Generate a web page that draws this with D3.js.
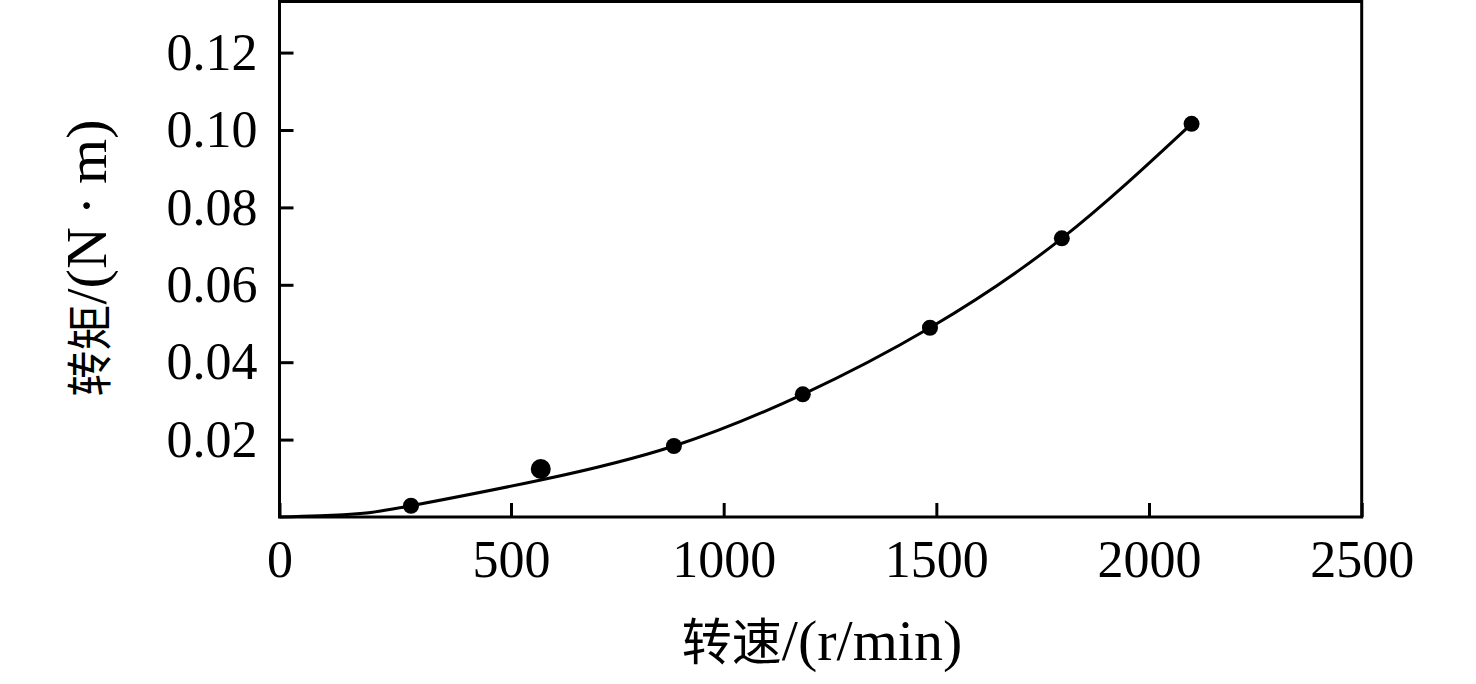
<!DOCTYPE html>
<html>
<head>
<meta charset="utf-8">
<script src="https://cdn.jsdelivr.net/npm/d3@7/dist/d3.min.js"></script>
<style>
  html, body { margin: 0; padding: 0; background: #fff; }
  svg { display: block; }
  text { font-family: "Liberation Serif", "Noto Sans CJK SC", serif; fill: #000; }
</style>
</head>
<body>
<div id="chart"></div>
<script>
// measured points (speed r/min, torque N·m)
const speed  = [284, 570, 883, 1186, 1485, 1795, 2100];
const torque = [0.0029, 0.0124, 0.01835, 0.0317, 0.0489, 0.0720, 0.1016];
// the 600 r/min point is drawn a bit larger in the original
const dotSize = [8, 10, 8, 8, 8, 8, 8];

// fitted curve
const fitSpeed  = [0, 87, 181, 284, 570, 883, 1186, 1485, 1795, 2100];
const fitTorque = [0, 0.0003, 0.00096, 0.0029, 0.00956, 0.01835, 0.0317, 0.0489, 0.0720, 0.1016];

const xTicks = [0, 500, 1000, 1500, 2000, 2500];
const yTicks = [0.02, 0.04, 0.06, 0.08, 0.10, 0.12];

const W = 1476, H = 684;
const plotLeft = 279.5, plotRight = 1361.7, plotTop = 1.5, plotBottom = 517;

const svg = d3.select("#chart").append("svg")
  .attr("width", W)
  .attr("height", H);

// the original's 0 sits on the frame while the other ticks are spaced evenly
const x = d3.scaleLinear()
  .domain([0, 500, 2500])
  .range([plotLeft, 511, plotRight]);

const y = d3.scaleLinear()
  .domain([0, 0.1332])
  .range([plotBottom, plotTop]);

// X axis
const xAxis = svg.append("g")
  .attr("transform", "translate(0," + plotBottom + ")")
  .call(d3.axisBottom(x)
    .tickValues(xTicks)
    .tickFormat(d3.format("d"))
    .tickSizeInner(-14)
    .tickSizeOuter(0)
    .tickPadding(23));
xAxis.select(".domain").remove();
xAxis.selectAll(".tick line").attr("stroke", "#000").attr("stroke-width", 3);
xAxis.selectAll(".tick text").attr("font-size", 52).attr("font-family", null);

// Y axis
const yAxis = svg.append("g")
  .attr("transform", "translate(" + plotLeft + ",0)")
  .call(d3.axisLeft(y)
    .tickValues(yTicks)
    .tickFormat(d3.format(".2f"))
    .tickSizeInner(-14)
    .tickSizeOuter(0)
    .tickPadding(22));
yAxis.select(".domain").remove();
yAxis.selectAll(".tick line").attr("stroke", "#000").attr("stroke-width", 3);
yAxis.selectAll(".tick text").attr("font-size", 52).attr("font-family", null);

// frame
svg.append("rect")
  .attr("x", x(0))
  .attr("y", y(0.1332))
  .attr("width", x(2500) - x(0))
  .attr("height", y(0) - y(0.1332))
  .attr("fill", "none")
  .attr("stroke", "#000")
  .attr("stroke-width", 3);

// fitted curve
const line = d3.line()
  .x(function (d, i) { return x(fitSpeed[i]); })
  .y(function (d, i) { return y(fitTorque[i]); })
  .curve(d3.curveNatural);

svg.append("path")
  .datum(fitSpeed)
  .attr("d", line)
  .attr("fill", "none")
  .attr("stroke", "#000")
  .attr("stroke-width", 3);

// dots
svg.append("g")
  .selectAll("circle")
  .data(speed).enter()
  .append("circle")
  .attr("cx", function (d) { return x(d); })
  .attr("cy", function (d, i) { return y(torque[i]); })
  .attr("r", function (d, i) { return dotSize[i]; })
  .attr("fill", "#000");

// axis titles: chinese part a bit smaller than the latin part
const xTitle = svg.append("text")
  .attr("x", 822)
  .attr("y", 660)
  .attr("text-anchor", "middle")
  .attr("font-size", 58);
xTitle.append("tspan").attr("font-size", 50).text("转速");
xTitle.append("tspan").text("/(r/min)");

const yTitle = svg.append("text")
  .attr("transform", "translate(106,258) rotate(-90)")
  .attr("text-anchor", "middle")
  .attr("font-size", 58);
yTitle.append("tspan").attr("font-size", 46).text("转矩");
yTitle.append("tspan").text("/(N");
yTitle.append("tspan").attr("dx", 12).text("·");
yTitle.append("tspan").attr("dx", 12).text("m)");
</script>
</body>
</html>
